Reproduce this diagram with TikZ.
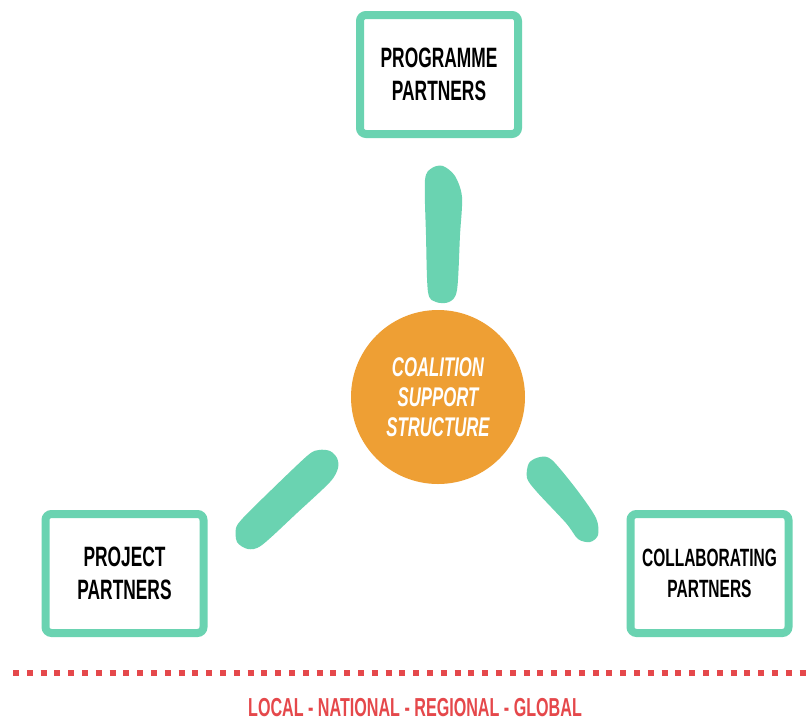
\documentclass[tikz,border=0pt]{standalone}
\usepackage{fontspec}
\newfontfamily\boxfont[FakeStretch=0.62]{Liberation Sans}
\newfontfamily\brushfont[FakeStretch=0.62]{Liberation Sans}
\definecolor{mint}{HTML}{6AD3B1}
\definecolor{hubOrange}{HTML}{EE9F34}
\definecolor{scaleRed}{HTML}{E5484B}

\begin{document}
\begin{tikzpicture}[x=1pt,y=-1pt,
		partner/.style={draw=mint,line width=8pt,rounded corners=6pt,fill=white,minimum width=158pt,minimum height=119pt,align=center,font=\boxfont\bfseries\fontsize{28}{33}\selectfont},
		brush/.style={fill=mint}]
		\useasboundingbox (0,0) rectangle (806,724);
		\fill[white] (0,0) rectangle (806,724);
		
		\node[partner] (prog) at (439,74.5) {PROGRAMME\\PARTNERS};
		\node[partner] (proj) at (124.5,573.5) {PROJECT\\PARTNERS};
		\node[partner,font=\boxfont\bfseries\fontsize{25}{31}\selectfont] (coll) at (709.5,573.5) {COLLABORATING\\PARTNERS};
		
		\node[circle,fill=hubOrange,minimum size=174pt,align=center,text=white,font=\brushfont\bfseries\itshape\fontsize{27}{30}\selectfont] (hub) at (438,397) {COALITION\\SUPPORT\\STRUCTURE};
		
		\fill[brush] plot[smooth cycle] coordinates {(425,180) (432,168) (443,166) (455,176) (462,197) (460,235) (457,290) (449,302) (436,302) (428,292) (426,235)};
		\fill[brush] plot[smooth cycle] coordinates {(330,451) (337,458) (338,468) (330,482) (297,513) (262,545) (248,549) (237,542) (236,528) (243,518) (263,498) (307,456) (319,450)};
		\fill[brush] plot[smooth cycle] coordinates {(529,463) (540,457) (552,460) (577,490) (596,518) (598,535) (590,542) (578,539) (566,523) (537,492) (527,478)};
		
		\draw[scaleRed,line width=6pt,dash pattern=on 6pt off 7.8pt] (13,673) -- (806,673);
		\node[anchor=base,inner sep=0pt,text=scaleRed,font=\boxfont\bfseries\fontsize{26}{30}\selectfont] (levels) at (415,716) {LOCAL - NATIONAL - REGIONAL - GLOBAL};

	\end{tikzpicture}
\end{document}
